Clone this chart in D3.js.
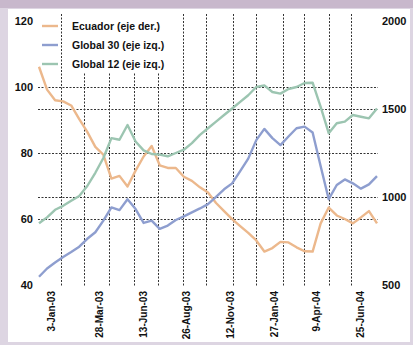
<!DOCTYPE html>
<html>
<head>
<meta charset="utf-8">
<script src="https://cdn.jsdelivr.net/npm/d3@7"></script>
<style>
  body { margin: 0; background: #ffffff; }
  svg text { font-family: "Liberation Sans", Arial, sans-serif; font-weight: bold; fill: #111; }
</style>
</head>
<body>
<svg id="chart" width="413" height="345"></svg>
<script>
// Fortnightly observations (Fridays)
const dates = [
  "2002-12-13","2002-12-27","2003-01-10","2003-01-24","2003-02-07","2003-02-21",
  "2003-03-07","2003-03-21","2003-04-04","2003-04-18","2003-05-02","2003-05-16",
  "2003-05-30","2003-06-13","2003-06-27","2003-07-11","2003-07-25","2003-08-08",
  "2003-08-22","2003-09-05","2003-09-19","2003-10-03","2003-10-17","2003-10-31",
  "2003-11-14","2003-11-28","2003-12-12","2003-12-26","2004-01-09","2004-01-23",
  "2004-02-06","2004-02-20","2004-03-05","2004-03-19","2004-04-02","2004-04-16",
  "2004-04-30","2004-05-14","2004-05-28","2004-06-11","2004-06-25","2004-07-09",
  "2004-07-23"
];

// Ecuador spread, basis points (right axis)
const ecuador = [
  1740,1610,1550,1543,1520,1443,1370,1285,1240,1105,1120,1060,
  1150,1230,1290,1180,1165,1165,1115,1092,1055,1025,966,920,
  874,835,796,753,690,710,745,742,714,692,690,850,
  940,895,875,850,884,920,850
];

// Global 30 bond price (left axis)
const global30 = [
  42.5,45,46.8,48.5,50,51.6,54,56,59.5,63.5,62.7,66,
  63,58.8,59.5,57,58,59.7,60.8,62,63.2,64.5,66.7,69,
  70.8,74.5,78.3,83.9,87.3,84.5,82.4,85,87.5,88,86.2,76,
  66,70.3,72,70.8,69.2,70.5,73
];

// Global 12 bond price (left axis)
const global12 = [
  58.7,60.5,62.8,64,65.5,67,70,74,78.5,84.5,84,88.5,
  83.5,80.8,79.7,79.5,79,80,81,83,85.5,87.5,89.5,91.5,
  93.5,95.5,97.5,100,100.5,98.5,98,99.4,100,101.2,101.3,94,
  86,89,89.5,91.5,91,90.5,93.5
];

const leftTicks = [40, 60, 80, 100, 120];
const rightTicks = [500, 1000, 1500, 2000];
const leftGrid = [60, 80, 100];
const rightGrid = [1000, 1500];

const dateLabels = [
  "2003-01-03","2003-03-28","2003-06-13","2003-08-26",
  "2003-11-12","2004-01-27","2004-04-09","2004-06-25"
];
const gridDates = [
  "2003-01-20","2003-03-01","2003-04-13","2003-05-27","2003-07-08",
  "2003-08-20","2003-09-29","2003-11-15","2003-12-25","2004-02-10",
  "2004-03-18","2004-05-01","2004-06-08"
];

const seriesNames = ["Ecuador (eje der.)", "Global 30 (eje izq.)", "Global 12 (eje izq.)"];
const seriesColors = ["#ecb88c", "#8e9ecf", "#9cc5b1"];

const parse = d3.timeParse("%Y-%m-%d");
const fmt = d => {
  const t = parse(d);
  return t.getDate() + "-" + d3.timeFormat("%b-%y")(t);
};

const svg = d3.select("#chart");
const W = 413, H = 345;

// frame
svg.append("rect").attr("width", W).attr("height", H).attr("fill", "#ddd5e2");
svg.append("rect").attr("width", W).attr("height", 8).attr("fill", "#c8b8cc");
svg.append("rect").attr("x", 8).attr("y", 9).attr("width", 402).attr("height", 333).attr("fill", "#ffffff");

const plot = { left: 38, right: 378, top: 21, bottom: 285 };

const x = d3.scaleTime()
  .domain([parse(dates[0]), parse(dates[dates.length - 1])])
  .range([39, 377]);
const yL = d3.scaleLinear().domain([40, 120]).range([plot.bottom, plot.top]);
const yR = d3.scaleLinear().domain([500, 2000]).range([plot.bottom, plot.top]);

const grid = svg.append("g")
  .attr("stroke", "#333")
  .attr("stroke-width", 1)
  .attr("stroke-dasharray", "2,1.5");

grid.selectAll("line.v").data(gridDates).join("line")
  .attr("class", "v")
  .attr("x1", d => Math.round(x(parse(d))) + 0.5)
  .attr("x2", d => Math.round(x(parse(d))) + 0.5)
  .attr("y1", 14).attr("y2", 287);

grid.selectAll("line.hl").data(leftGrid).join("line")
  .attr("class", "hl")
  .attr("x1", plot.left).attr("x2", plot.right)
  .attr("y1", d => Math.round(yL(d)) + 0.5)
  .attr("y2", d => Math.round(yL(d)) + 0.5);

grid.selectAll("line.hr").data(rightGrid).join("line")
  .attr("class", "hr")
  .attr("x1", plot.left).attr("x2", plot.right)
  .attr("y1", d => Math.round(yR(d)) + 0.5)
  .attr("y2", d => Math.round(yR(d)) + 0.5);

// legend backing
svg.append("rect").attr("x", 65).attr("y", 14).attr("width", 108).attr("height", 58).attr("fill", "#fff");

// series
const rows = dates.map((d, i) => ({ t: parse(d), e: ecuador[i], g30: global30[i], g12: global12[i] }));
const lines = [
  { key: "e", scale: yR, color: seriesColors[0] },
  { key: "g30", scale: yL, color: seriesColors[1] },
  { key: "g12", scale: yL, color: seriesColors[2] }
];
lines.forEach(s => {
  svg.append("path")
    .datum(rows)
    .attr("fill", "none")
    .attr("stroke", s.color)
    .attr("stroke-width", 2.4)
    .attr("stroke-linejoin", "round")
    .attr("d", d3.line().x(d => x(d.t)).y(d => s.scale(d[s.key])));
});

// left axis labels
svg.append("g").selectAll("text").data(leftTicks).join("text")
  .attr("x", 33).attr("y", d => yL(d)).attr("dy", "0.35em")
  .attr("text-anchor", "end").attr("font-size", 11)
  .text(d => d);

// right axis labels
svg.append("g").selectAll("text").data(rightTicks).join("text")
  .attr("x", 382).attr("y", d => yR(d)).attr("dy", "0.35em")
  .attr("text-anchor", "start").attr("font-size", 11)
  .text(d => d);

// date labels, vertical
svg.append("g").selectAll("text").data(dateLabels).join("text")
  .attr("transform", d => `translate(${x(parse(d))},291) rotate(-90)`)
  .attr("dy", "0.35em")
  .attr("text-anchor", "end").attr("font-size", 10)
  .text(d => fmt(d));

// legend
const leg = svg.append("g").selectAll("g").data(seriesNames).join("g")
  .attr("transform", (d, i) => `translate(0,${26 + i * 19})`);
leg.append("line")
  .attr("x1", 42).attr("x2", 58)
  .attr("stroke", (d, i) => seriesColors[i]).attr("stroke-width", 2.4);
leg.append("text")
  .attr("x", 72).attr("dy", "0.35em").attr("font-size", 10.5)
  .text(d => d);
</script>
</body>
</html>
